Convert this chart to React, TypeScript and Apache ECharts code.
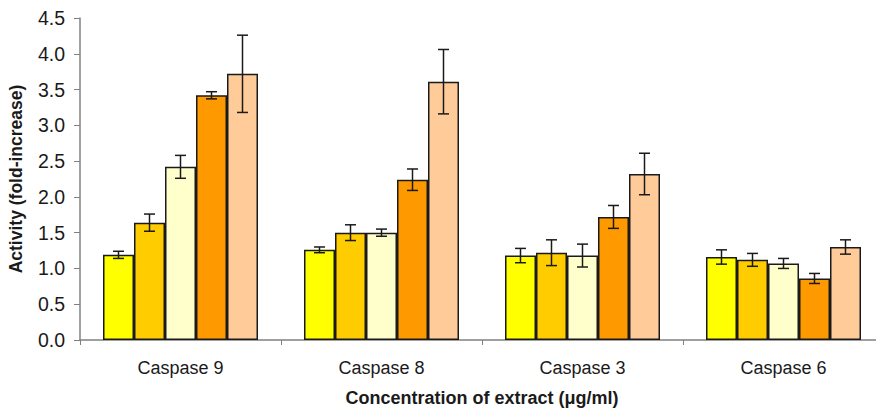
import React, { useEffect, useRef } from "react";
import * as echarts from "echarts";

const categories = ["Caspase 9", "Caspase 8", "Caspase 3", "Caspase 6"];
const seriesNames = ["Dose 1", "Dose 2", "Dose 3", "Dose 4", "Dose 5"];
const seriesColors = ["#FFFF00", "#FFCC00", "#FFFFCC", "#FF9900", "#FFCC99"];
const means = [
  [1.19, 1.26, 1.18, 1.16],
  [1.64, 1.5, 1.22, 1.12],
  [2.42, 1.5, 1.18, 1.07],
  [3.42, 2.24, 1.72, 0.86],
  [3.72, 3.61, 2.32, 1.3],
];
const errors = [
  [0.05, 0.04, 0.1, 0.1],
  [0.12, 0.11, 0.18, 0.09],
  [0.16, 0.05, 0.16, 0.07],
  [0.05, 0.15, 0.16, 0.07],
  [0.54, 0.45, 0.29, 0.1],
];
const yTicks = [0, 0.5, 1, 1.5, 2, 2.5, 3, 3.5, 4, 4.5];

const BAR_W = 31;
const FONT = "Liberation Sans, Arial, sans-serif";

export default function App() {
  const ref = useRef<HTMLDivElement>(null);
  useEffect(() => {
    if (!ref.current) return;
    const chart = echarts.init(ref.current, null, { renderer: "svg" });
    const barSeries = seriesNames.map((name, i) => ({
      name,
      type: "bar",
      data: means[i],
      barWidth: BAR_W,
      barGap: "0%",
      itemStyle: { color: seriesColors[i], borderColor: "#1a1a1a", borderWidth: 1.5 },
      z: 2,
    }));
    const errSeries = seriesNames.map((name, i) => ({
      name: name + " err",
      type: "custom",
      z: 5,
      data: means[i].map((m, j) => [j, m, errors[i][j]]),
      renderItem: (params: any, api: any) => {
        const idx = api.value(0);
        const m = api.value(1);
        const e = api.value(2);
        const base = api.coord([idx, m]);
        const x = base[0] + (i - 2) * BAR_W;
        const yTop = api.coord([idx, m + e])[1];
        const yBot = api.coord([idx, m - e])[1];
        const cap = 5.5;
        const st = { stroke: "#1a1a1a", lineWidth: 1.5 };
        return {
          type: "group",
          children: [
            { type: "line", shape: { x1: x, y1: yTop, x2: x, y2: yBot }, style: st },
            { type: "line", shape: { x1: x - cap, y1: yTop, x2: x + cap, y2: yTop }, style: st },
            { type: "line", shape: { x1: x - cap, y1: yBot, x2: x + cap, y2: yBot }, style: st },
          ],
        };
      },
    }));
    chart.setOption({
      animation: false,
      grid: { left: 80, right: -8, top: 18, bottom: 69, containLabel: false, outerBoundsMode: "none" },
      xAxis: {
        type: "category",
        data: categories,
        name: "Concentration of extract (μg/ml)",
        nameLocation: "middle",
        nameGap: 49,
        nameTextStyle: { fontFamily: FONT, fontSize: 18, fontWeight: "bold", color: "#1a1a1a" },
        axisLine: { lineStyle: { color: "#808080", width: 1.5 } },
        axisTick: { show: true, length: 5, lineStyle: { color: "#808080" } },
        axisLabel: { fontFamily: FONT, fontSize: 18, color: "#1a1a1a", margin: 19 },
      },
      yAxis: {
        type: "value",
        min: 0,
        max: 4.5,
        interval: 0.5,
        name: "Activity (fold-increase)",
        nameLocation: "middle",
        nameGap: 55,
        nameTextStyle: { fontFamily: FONT, fontSize: 17.5, fontWeight: "bold", color: "#1a1a1a" },
        axisLine: { show: true, lineStyle: { color: "#808080", width: 1.5 } },
        axisTick: { show: true, length: 6, lineStyle: { color: "#808080" } },
        splitLine: { show: false },
        axisLabel: {
          fontFamily: FONT,
          fontSize: 19.5,
          color: "#1a1a1a",
          margin: 15,
          formatter: (v: number) => (yTicks.includes(v) ? v.toFixed(1) : ""),
        },
      },
      series: [...barSeries, ...errSeries],
    });
    return () => chart.dispose();
  }, []);
  return (
    <div
      ref={ref}
      style={{ position: "fixed", left: 0, top: 0, width: 876, height: 409, background: "#fff" }}
    />
  );
}
